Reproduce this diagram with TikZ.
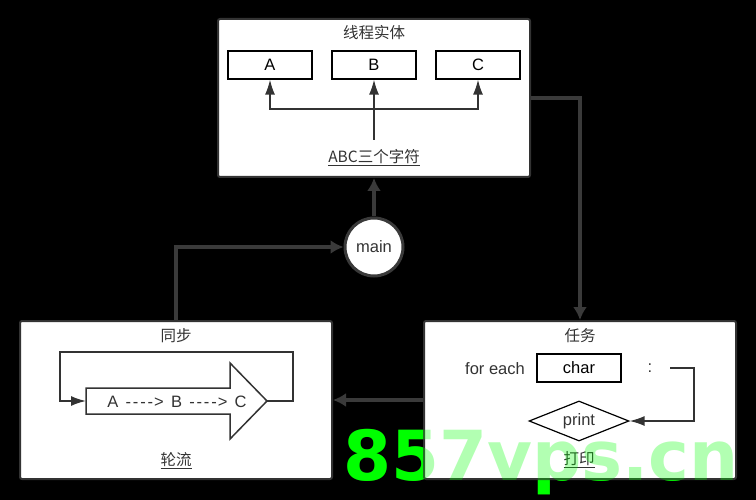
\documentclass[tikz,border=0pt]{standalone}
\usepackage{fontspec}
\setmainfont{Liberation Sans}
\newfontfamily\cjk{Noto Sans CJK SC}
\newfontfamily\markfont{DejaVu Sans}
\usetikzlibrary{arrows.meta, shapes.geometric}

\definecolor{ink}{HTML}{333333}
\definecolor{wire}{HTML}{3A3A3A}
\definecolor{mark}{HTML}{00FF00}

\newcommand{\dashto}{\ \,-\kern1.8pt-\kern1.8pt-\kern1.8pt-\kern1pt>\ \,}

\tikzset{
	panel/.style = {draw = ink, line width = 2pt, fill = white, rounded corners = 2pt, minimum width = 312pt, minimum height = 158pt},
	cell/.style = {draw = black, line width = 1.2pt, fill = white, minimum width = 84pt, minimum height = 28pt, inner sep = 0pt},
	link/.style = {wire, line width = 4pt, -{Latex[length = 13pt, width = 14pt]}},
	tarrow/.style = {ink, line width = 1.6pt, -{Latex[length = 15pt, width = 10pt]}},
	label/.style = {text = ink, inner sep = 1pt},
	cjklabel/.style = {label, font = \cjk\fontsize{15.5pt}{18pt}\selectfont}
}

\begin{document}
\begin{tikzpicture}[x = 1pt, y = -1pt, font = \fontsize{16.5pt}{19pt}\selectfont]

	% Background
	
	\fill [black] (0, 0) rectangle (756, 500);
	\useasboundingbox (0, 0) rectangle (756, 500);
	
	% Watermark, seen through the background
	
	\node [anchor = base west, inner sep = 0pt, text = mark] (markfull) at (343, 480) {\markfont\bfseries\fontsize{69pt}{70pt}\selectfont 857vps.cn};
	
	% Thread entity
	
	\node [panel] (entity) at (374, 98) {};
	\node [cjklabel] (entityT) at (374, 33) {线程实体};
	\node [cell] (A) at (270, 65) {A};
	\node [cell] (B) at (374, 65) {B};
	\node [cell] (C) at (478, 65) {C};
	\node [cjklabel] (chars) at (374, 158) {\underline{ABC三个字符}};
	\coordinate (fork) at (374, 109);
	\draw [tarrow] ([yshift = 9pt] chars.north) -- (B.south);
	\draw [tarrow] (fork) -| (A.south);
	\draw [tarrow] (fork) -| (C.south);
	
	% Main
	
	\node [circle, draw = wire, line width = 3pt, fill = white, minimum size = 58pt, text = ink] (main) at (374, 247) {main};
	
	% Sync
	
	\node [panel] (sync) at (176, 400) {};
	\node [cjklabel] (syncT) at (176, 336) {同步};
	\draw [ink, line width = 1.5pt, fill = white] (86, 388) -- (230, 388) -- (230, 363) -- (267, 401) -- (230, 439) -- (230, 414) -- (86, 414) -- cycle;
	\coordinate (tip) at (267, 401);
	\coordinate (tail) at (86, 401);
	\node [label] (flow) at (177, 402) {A\dashto B\dashto C};
	\draw [tarrow] (tip) -- ++ (26, 0) |- (60, 352) |- (tail);
	\node [cjklabel] (turns) at (176, 461) {\underline{轮流}};
	
	% Task
	
	\node [panel] (task) at (580, 400) {};
	\node [cjklabel] (taskT) at (580, 336) {任务};
	\node [label] (foreach) at (495, 369) {for each};
	\node [cell] (char) at (579, 368) {char};
	\node [label] (colon) at (650, 368) {:};
	\node [diamond, draw = black, line width = 1.2pt, fill = white, aspect = 2.5, inner sep = 0pt, minimum width = 100pt, minimum height = 40pt, text = ink] (print) at (579, 421) {print};
	\coordinate (loopin) at (670, 368);
	\draw [tarrow] (loopin) -| (694, 421) -- (print.east);
	\node [cjklabel] (printT) at (579, 460) {\underline{打印}};
	
	% Connectors
	
	\draw [link] (main.north) -- (entity.south);
	\draw [link] (sync.north) |- (main.west);
	\draw [link] (entity.east) -| (task.north);
	\draw [link] (task.west) -- (sync.east);
	
	% Watermark over the boxes
	
	\node [anchor = base west, inner sep = 0pt, text = mark, text opacity = 0.3] (marklight) at (343, 480) {\markfont\bfseries\fontsize{69pt}{70pt}\selectfont 857vps.cn};
	
\end{tikzpicture}
\end{document}
